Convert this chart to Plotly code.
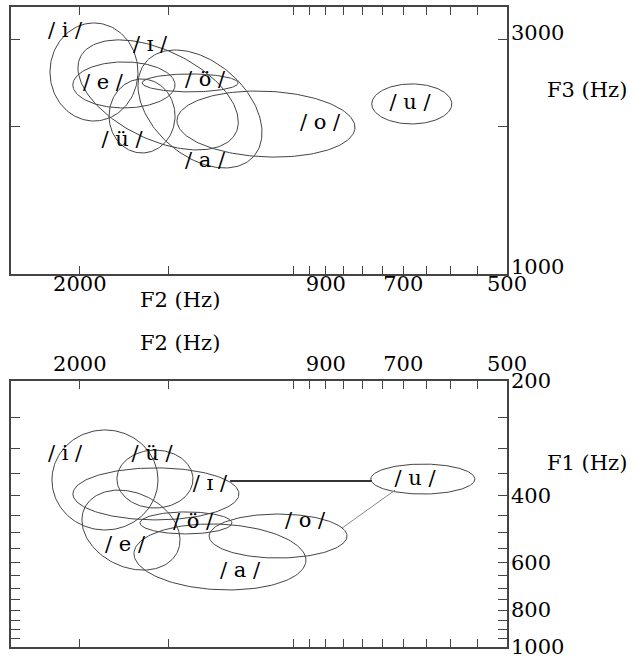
import numpy as np
import plotly.graph_objects as go

# ---------------- data ----------------
vowels = ["i", "ɪ", "e", "ü", "ö", "a", "o", "u"]

# upper panel: F2 x F3 ellipses (centre in Hz, spread in decades, tilt)
top_f2 = [1910, 1551, 1733, 1634, 1398, 1354, 1093, 681]
top_f3 = [2580, 2317, 2428, 2099, 2451, 2169, 2021, 2221]
top_sx = [0.062, 0.113, 0.072, 0.0465, 0.0676, 0.0874, 0.1254, 0.0564]
top_sy = [0.0999, 0.1121, 0.0469, 0.0754, 0.0183, 0.1202, 0.0673, 0.0408]
top_tilt = [0.0, 0.49, 0.0, 0.0, 0.0, 0.4, 0.1, 0.0]
top_lab_f2 = [2098, 1592, 1855, 1744, 1332, 1332, 917, 685]
top_lab_f3 = [3113, 2915, 2439, 1866, 2474, 1692, 2021, 2221]

# lower panel: F2 x F1 ellipses
bot_f2 = [1843, 1562, 1694, 1567, 1417, 1269, 1051, 657]
bot_f1 = [364, 396, 493, 362, 472, 580, 511, 362]
bot_sx = [0.0747, 0.117, 0.0691, 0.0536, 0.0648, 0.1212, 0.0972, 0.0733]
bot_sy = [0.1314, 0.0683, 0.1051, 0.0762, 0.0289, 0.0867, 0.0578, 0.0394]
bot_tilt = [0.0, 0.0, -0.25, 0.0, 0.0, -0.1, 0.0, 0.0]
bot_lab_f2 = [2098, 1311, 1727, 1582, 1385, 1189, 963, 674]
bot_lab_f1 = [313, 375, 543, 313, 472, 635, 469, 364]

# connecting lines in lower panel
link1_f2 = [1228, 775]
link1_f1 = [366, 366]
link2_f2 = [719, 854]
link2_f1 = [387, 487]

# axis ticks
f2_ticks = [2000, 1500, 1000, 950, 900, 850, 800, 750, 700, 650, 600, 550, 500]
f2_text = ["2000", "", "", "", "900", "", "", "", "700", "", "", "", "500"]
f3_ticks = [1000, 2000, 3000]
f3_text = ["1000", "", "3000"]
f1_ticks = [200, 250, 300, 350, 400, 450, 500, 550, 600, 650, 700, 750, 800, 850, 900, 950, 1000]
f1_text = ["200", "", "", "", "400", "", "", "", "600", "", "", "", "800", "", "", "", "1000"]

FONT = "DejaVu Serif"
LINE = "#444444"
FS = 21


def ellipse(cx, cy, sx, sy, rho):
    t = np.linspace(0, 2 * np.pi, 160)
    d = np.arcsin(rho)
    lx = np.log10(cx) + sx * np.cos(t)
    ly = np.log10(cy) + sy * np.sin(t + d)
    return 10 ** lx, 10 ** ly


fig = go.Figure()

for i in range(len(vowels)):
    ex, ey = ellipse(top_f2[i], top_f3[i], top_sx[i], top_sy[i], top_tilt[i])
    fig.add_trace(go.Scatter(x=ex, y=ey, mode="lines", xaxis="x", yaxis="y",
                             line=dict(color=LINE, width=1), hoverinfo="skip"))
    ex, ey = ellipse(bot_f2[i], bot_f1[i], bot_sx[i], bot_sy[i], bot_tilt[i])
    fig.add_trace(go.Scatter(x=ex, y=ey, mode="lines", xaxis="x2", yaxis="y2",
                             line=dict(color=LINE, width=1), hoverinfo="skip"))

fig.add_trace(go.Scatter(x=link1_f2, y=link1_f1, mode="lines", xaxis="x2", yaxis="y2",
                         line=dict(color="#333333", width=2)))
fig.add_trace(go.Scatter(x=link2_f2, y=link2_f1, mode="lines", xaxis="x2", yaxis="y2",
                         line=dict(color="#888888", width=1)))

labels = ["/ " + v + " /" for v in vowels]
fig.add_trace(go.Scatter(x=top_lab_f2, y=top_lab_f3, mode="text", text=labels,
                         xaxis="x", yaxis="y",
                         textfont=dict(family=FONT, size=FS, color="black")))
fig.add_trace(go.Scatter(x=bot_lab_f2, y=bot_lab_f1, mode="text", text=labels,
                         xaxis="x2", yaxis="y2",
                         textfont=dict(family=FONT, size=FS, color="black")))

W, H = 635, 658
xdom = [11 / W, 507 / W]
common = dict(showgrid=False, zeroline=False, showline=True, linecolor=LINE, linewidth=1.5,
              ticks="inside", tickcolor=LINE, mirror="ticks", automargin=False,
              ticklabeloverflow="allow",
              tickfont=dict(family=FONT, size=FS, color="black"))

fig.update_layout(
    width=W, height=H, margin=dict(l=0, r=0, t=0, b=0, pad=0),
    paper_bgcolor="white", plot_bgcolor="white", showlegend=False,
    xaxis=dict(type="log", range=[np.log10(2500), np.log10(500)], domain=xdom, anchor="y",
               tickmode="array", tickvals=f2_ticks, ticktext=f2_text, ticklen=8,
               ticklabelstandoff=-10, **common),
    yaxis=dict(type="log", range=[3, np.log10(3500)], domain=[1 - 274 / H, 1 - 7 / H],
               anchor="x", side="right", tickmode="array", tickvals=f3_ticks, ticktext=f3_text,
               ticklen=9, ticklabelshift=-7, ticklabelstandoff=-2, **common),
    xaxis2=dict(type="log", range=[np.log10(2500), np.log10(500)], domain=xdom, anchor="y2",
                side="top", tickmode="array", tickvals=f2_ticks, ticktext=f2_text, ticklen=8,
                **common),
    yaxis2=dict(type="log", range=[3, np.log10(200)], domain=[1 - 647 / H, 1 - 381 / H],
                anchor="x2", side="right", tickmode="array", tickvals=f1_ticks, ticktext=f1_text,
                ticklen=9, ticklabelstandoff=-2, **common),
)

afont = dict(family=FONT, size=FS, color="black")
for txt, px, py in [("F2 (Hz)", 180, 300), ("F2 (Hz)", 180, 343),
                    ("F3 (Hz)", 587, 90), ("F1 (Hz)", 587, 463)]:
    fig.add_annotation(text=txt, x=px / W, y=1 - py / H, xref="paper", yref="paper",
                       showarrow=False, font=afont, xanchor="center", yanchor="middle")

fig.write_html("out.html")
